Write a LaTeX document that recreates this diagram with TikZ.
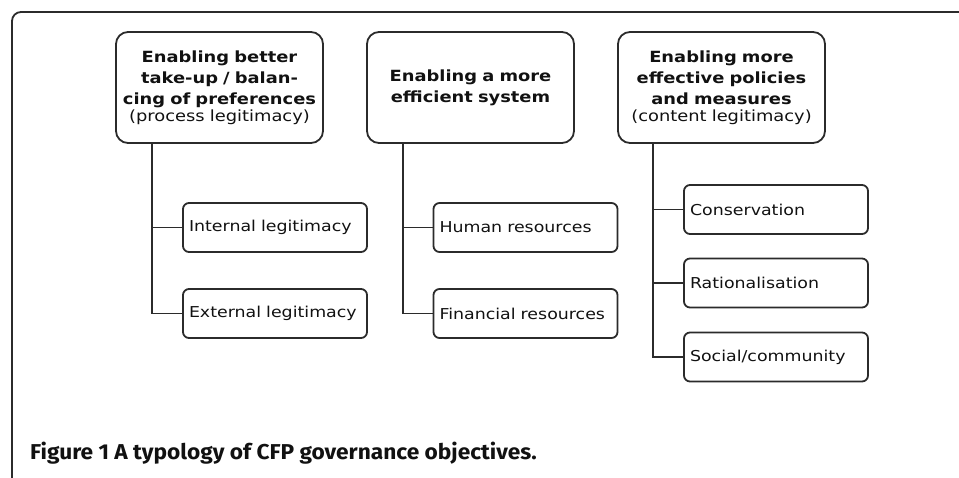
\documentclass[tikz,border=0pt]{standalone}
\usepackage{fontspec}
\setmainfont{DejaVu Sans}[FakeStretch=1.16]
\newfontfamily\capfont{Fira Sans}[FakeStretch=1.055]
\definecolor{ln}{HTML}{2B2B2B}
\definecolor{tx}{HTML}{111111}
\begin{document}
\begin{tikzpicture}[x=1pt,y=-1pt,
  titlebox/.style={draw=ln,line width=1.8pt,rounded corners=12pt,text=tx,
    text width=201pt,inner xsep=3pt,inner ysep=0pt,minimum height=111pt,align=center,
    font=\fontsize{15.4}{21}\selectfont\bfseries},
  childbox/.style={draw=ln,line width=1.8pt,rounded corners=6pt,text=tx,
    text width=172pt,inner xsep=6pt,inner ysep=0pt,minimum height=49pt,align=left,
    font=\fontsize{15}{20}\selectfont},
  conn/.style={draw=ln,line width=1.8pt}]
\useasboundingbox (0,0) rectangle (959,477);
\draw[ln,line width=1.8pt,rounded corners=9pt] (12,480) -- (12,12) -- (962,12);

\node[titlebox] (t1) at (219.5,87.5) {Enabling better\\ take-up / balan-\\ cing of preferences\\[-4pt] {\mdseries (process legitimacy)}};
\node[titlebox] (t2) at (470.5,87.5) {Enabling a more\\ efficient system\\[8pt]};
\node[titlebox] (t3) at (721.5,87.5) {Enabling more\\ effective policies\\ and measures\\[-4pt] {\mdseries (content legitimacy)}};

\node[childbox] (c11) at (275,227.5) {Internal legitimacy};
\node[childbox] (c12) at (275,313.5) {External legitimacy};
\node[childbox] (c21) at (525.5,227.5) {Human resources};
\node[childbox] (c22) at (525.5,313.5) {Financial resources};
\node[childbox] (c31) at (776,209.5) {Conservation};
\node[childbox] (c32) at (776,283) {Rationalisation};
\node[childbox] (c33) at (776,357) {Social/community};

\coordinate (k1) at ([xshift=37pt]t1.south west);
\coordinate (k2) at ([xshift=37pt]t2.south west);
\coordinate (k3) at ([xshift=36pt]t3.south west);
\draw[conn] (k1) |- (c12.west);
\draw[conn] (c11.west) -- (c11.west -| k1);
\draw[conn] (k2) |- (c22.west);
\draw[conn] (c21.west) -- (c21.west -| k2);
\draw[conn] (k3) |- (c33.west);
\draw[conn] (c31.west) -- (c31.west -| k3);
\draw[conn] (c32.west) -- (c32.west -| k3);

\node[anchor=base west,inner sep=0pt,text=tx,font=\capfont\bfseries\fontsize{21.5}{24}\selectfont] (cap) at (30,459) {Figure 1 A typology of CFP governance objectives.};
\end{tikzpicture}
\end{document}
